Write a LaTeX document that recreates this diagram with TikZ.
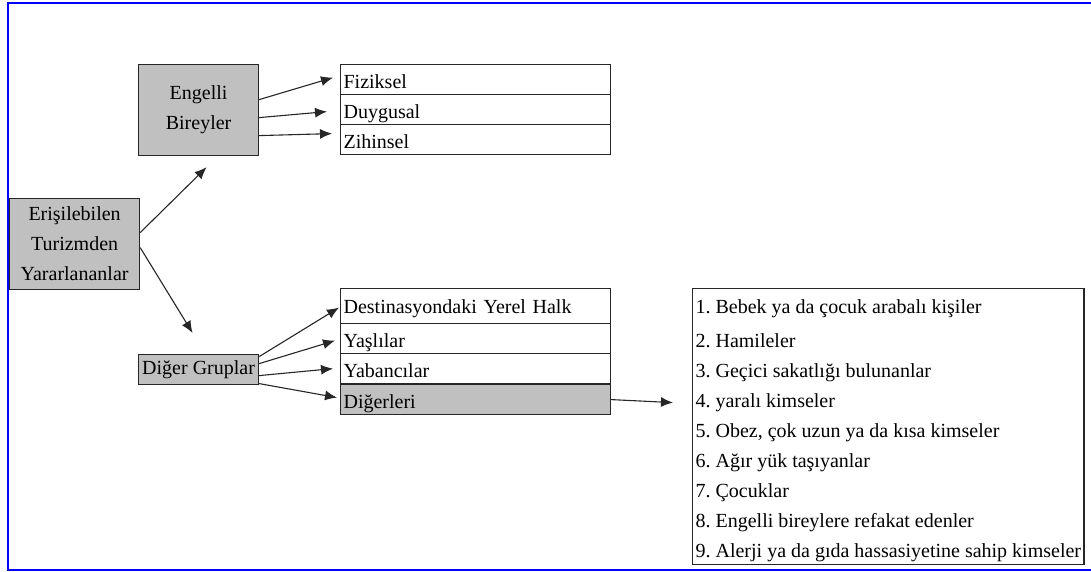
\documentclass[tikz,border=0pt]{standalone}
\usepackage{fontspec}
\setmainfont{Liberation Serif}
\usetikzlibrary{arrows.meta}
\definecolor{boxgray}{HTML}{C0C0C0}
\definecolor{frameblue}{HTML}{0000FF}
\tikzset{
  base box/.style={
    draw=black!85,
    line width=1.2pt,
    anchor=north west,
    font=\fontsize{20}{30}\selectfont\frenchspacing
  },
  group box/.style={
    base box,
    fill=boxgray,
    align=center,
    inner xsep=2pt
  },
  row box/.style={
    base box,
    minimum height=30pt,
    text width=264pt,
    align=left,
    inner xsep=3pt,
    inner ysep=3pt,
    text height=21pt,
    text depth=3pt
  },
  list box/.style={
    base box,
    align=left,
    inner xsep=3pt,
    inner ysep=3pt,
    text height=266pt,
    text depth=4pt
  },
  arr/.style={
    draw=black!85,
    line width=1.1pt,
    -{Latex[length=12pt,width=10pt]}
  }
}

\begin{document}
\begin{tikzpicture}[x=1pt,y=-1pt]
  \useasboundingbox (0,0) rectangle (1091,572);
  \draw[frameblue,line width=2pt] (1091,3) -- (8,3) -- (8,570) -- (1091,570);

  \node[group box,minimum width=130pt,minimum height=91pt] (erisim) at (9,198)
    {Erişilebilen\\Turizmden\\Yararlananlar};
  \node[group box,minimum width=120pt,minimum height=91pt] (engelli) at (138,64)
    {Engelli\\Bireyler};
  \node[group box,minimum width=120pt,minimum height=30pt] (diger) at (138,354)
    {Diğer Gruplar};

  % engelli bireyler
  \foreach \txt [count=\i] in {Fiziksel,Duygusal,Zihinsel}
    \node[row box] (eb\i) at (340,{64+30*(\i-1)}) {\txt};

  % diger gruplar
  \node[row box,text height=22pt,text depth=7pt] (dg1) at (340,288) {Destinasyondaki Yerel Halk};
  \node[row box] (dg2) at (340,323) {Yaşlılar};
  \node[row box] (dg3) at (340,353) {Yabancılar};
  \node[row box,fill=boxgray] (dg4) at (340,384) {Diğerleri};

  \node[list box] (liste) at (692,288) {%
    1. Bebek ya da çocuk arabalı kişiler\\[4pt]
    2. Hamileler\\
    3. Geçici sakatlığı bulunanlar\\
    4. yaralı kimseler\\
    5. Obez, çok uzun ya da kısa kimseler\\
    6. Ağır yük taşıyanlar\\
    7. Çocuklar\\
    8. Engelli bireylere refakat edenler\\
    9. Alerji ya da gıda hassasiyetine sahip kimseler};

  \draw[arr] ([yshift=11.5pt]erisim.east) -- ([xshift=8pt,yshift=-11pt]engelli.south);
  \draw[arr] ([yshift=-3.5pt]erisim.east) -- ([xshift=-6pt,yshift=21pt]diger.north);

  \draw[arr] ([yshift=10.5pt]engelli.east) -- ([xshift=-7pt,yshift=2pt]eb1.west);
  \draw[arr] ([yshift=-7.5pt]engelli.east) -- ([xshift=-13pt,yshift=-2pt]eb2.west);
  \draw[arr] ([yshift=-25.5pt]engelli.east) -- ([xshift=-8pt,yshift=6pt]eb3.west);

  \draw[arr] ([yshift=13pt]diger.east) -- ([xshift=-1pt,yshift=-1.5pt]dg1.west);
  \draw[arr] ([yshift=6pt]diger.east) -- ([xshift=-5pt,yshift=-2pt]dg2.west);
  \draw[arr] ([yshift=-6pt]diger.east) -- ([xshift=-7pt]dg3.west);
  \draw[arr] ([yshift=-14pt]diger.east) -- ([xshift=-3pt,yshift=2pt]dg4.west);

  \draw[arr] (dg4.east) -- ([xshift=-19pt,yshift=24pt]liste.west);
\end{tikzpicture}
\end{document}
